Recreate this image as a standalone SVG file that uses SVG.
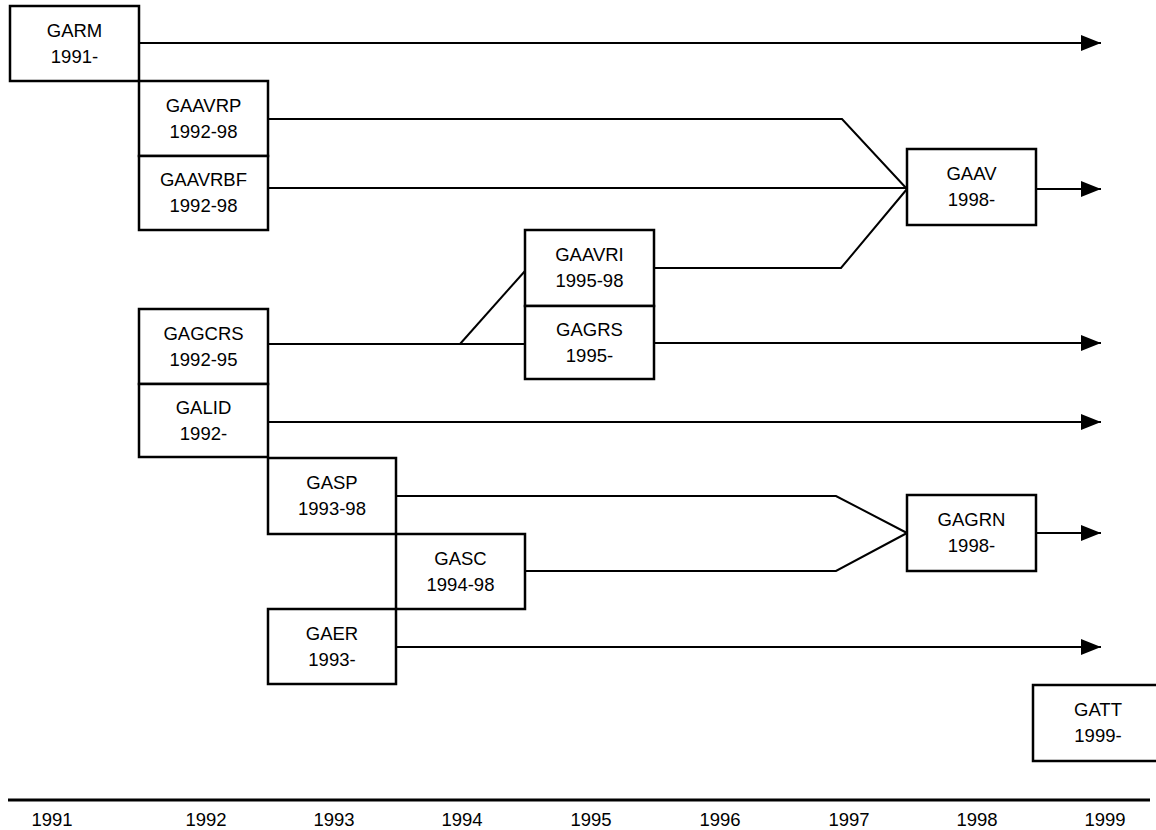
<svg xmlns="http://www.w3.org/2000/svg" width="1156" height="830" viewBox="0 0 1156 830">
<style>
.box{fill:#fff;stroke:#000;stroke-width:2.5}
.t{font-family:"Liberation Sans",Arial,sans-serif;font-size:18.5px;fill:#000;text-anchor:middle}
.c{fill:none;stroke:#000;stroke-width:2}
.ax{stroke:#000;stroke-width:3}
</style>
<defs>
<marker id="ah" markerUnits="userSpaceOnUse" markerWidth="21" markerHeight="17" refX="20" refY="8" orient="auto">
<path d="M0,0 L20,8 L0,16 z" fill="#000"/>
</marker>
</defs>
<rect width="1156" height="830" fill="#fff"/>
<g id="connectors">
<path class="c" d="M139,43 H1101" marker-end="url(#ah)"/>
<path class="c" d="M268,119 H842 L907,189"/>
<path class="c" d="M268,188 H907"/>
<path class="c" d="M654,268 H841 L907,189"/>
<path class="c" d="M1036,189 H1101" marker-end="url(#ah)"/>
<path class="c" d="M268,344 H525"/>
<path class="c" d="M460,344 L525,271"/>
<path class="c" d="M654,343 H1101" marker-end="url(#ah)"/>
<path class="c" d="M268,422 H1101" marker-end="url(#ah)"/>
<path class="c" d="M396,496 H836 L907,533"/>
<path class="c" d="M525,571 H836 L907,533"/>
<path class="c" d="M1036,533 H1101" marker-end="url(#ah)"/>
<path class="c" d="M396,647 H1101" marker-end="url(#ah)"/>
</g>
<g id="GARM"><rect class="box" x="10" y="6" width="129" height="75"/><text class="t" x="74.5" y="37">GARM</text><text class="t" x="74.5" y="63">1991-</text></g>
<g id="GAAVRP"><rect class="box" x="139" y="81" width="129" height="75"/><text class="t" x="203.5" y="112">GAAVRP</text><text class="t" x="203.5" y="138">1992-98</text></g>
<g id="GAAVRBF"><rect class="box" x="139" y="156" width="129" height="74"/><text class="t" x="203.5" y="186">GAAVRBF</text><text class="t" x="203.5" y="212">1992-98</text></g>
<g id="GAAV"><rect class="box" x="907" y="149" width="129" height="76"/><text class="t" x="971.5" y="180">GAAV</text><text class="t" x="971.5" y="206">1998-</text></g>
<g id="GAAVRI"><rect class="box" x="525" y="230" width="129" height="76"/><text class="t" x="589.5" y="261">GAAVRI</text><text class="t" x="589.5" y="287">1995-98</text></g>
<g id="GAGRS"><rect class="box" x="525" y="306" width="129" height="73"/><text class="t" x="589.5" y="336">GAGRS</text><text class="t" x="589.5" y="362">1995-</text></g>
<g id="GAGCRS"><rect class="box" x="139" y="309" width="129" height="75"/><text class="t" x="203.5" y="340">GAGCRS</text><text class="t" x="203.5" y="366">1992-95</text></g>
<g id="GALID"><rect class="box" x="139" y="384" width="129" height="73"/><text class="t" x="203.5" y="414">GALID</text><text class="t" x="203.5" y="440">1992-</text></g>
<g id="GASP"><rect class="box" x="268" y="458" width="128" height="76"/><text class="t" x="332" y="489">GASP</text><text class="t" x="332" y="515">1993-98</text></g>
<g id="GASC"><rect class="box" x="396" y="534" width="129" height="75"/><text class="t" x="460.5" y="565">GASC</text><text class="t" x="460.5" y="591">1994-98</text></g>
<g id="GAER"><rect class="box" x="268" y="609" width="128" height="75"/><text class="t" x="332" y="640">GAER</text><text class="t" x="332" y="666">1993-</text></g>
<g id="GAGRN"><rect class="box" x="907" y="495" width="129" height="76"/><text class="t" x="971.5" y="526">GAGRN</text><text class="t" x="971.5" y="552">1998-</text></g>
<g id="GATT"><rect class="box" x="1033" y="685" width="130" height="76"/><text class="t" x="1098" y="716">GATT</text><text class="t" x="1098" y="742">1999-</text></g>
<g id="axis">
<line class="ax" x1="8" y1="800" x2="1150" y2="800"/>
<text class="t" x="52" y="826">1991</text>
<text class="t" x="206" y="826">1992</text>
<text class="t" x="334" y="826">1993</text>
<text class="t" x="462" y="826">1994</text>
<text class="t" x="591" y="826">1995</text>
<text class="t" x="720" y="826">1996</text>
<text class="t" x="849" y="826">1997</text>
<text class="t" x="977" y="826">1998</text>
<text class="t" x="1105" y="826">1999</text>
</g>
</svg>
